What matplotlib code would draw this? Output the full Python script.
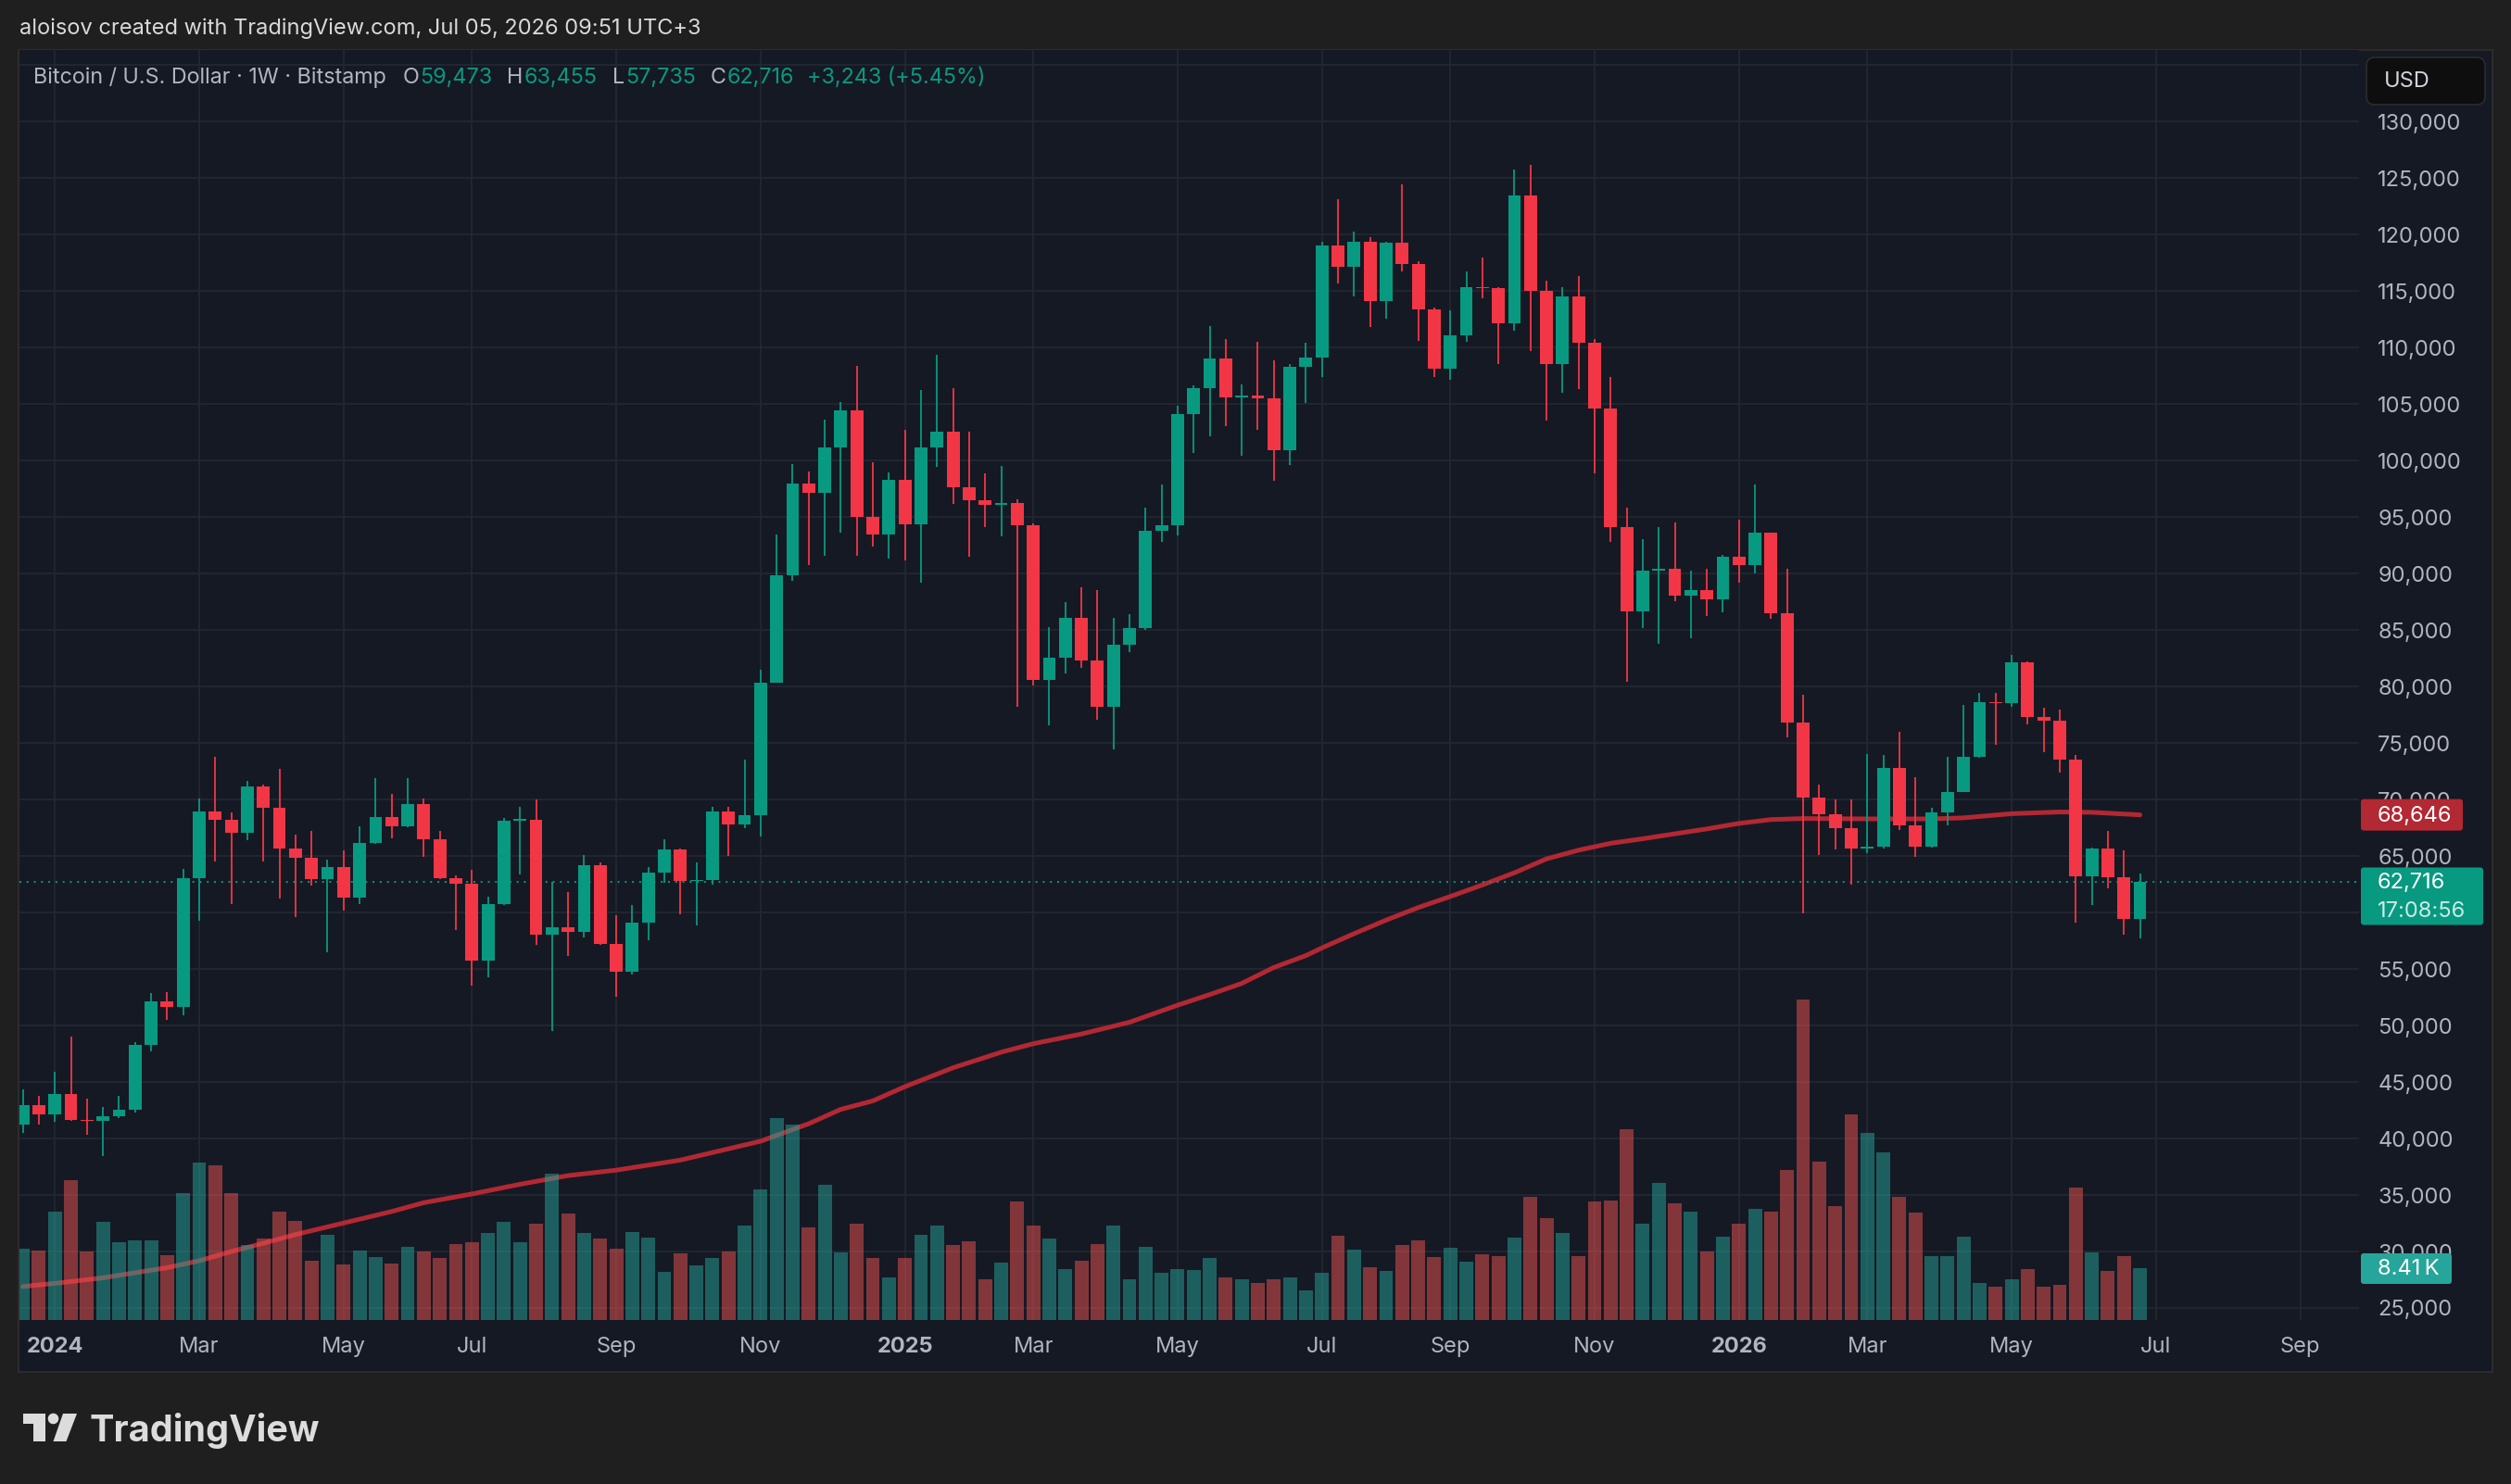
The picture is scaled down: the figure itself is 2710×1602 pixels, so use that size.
import numpy as np
import pandas as pd
import matplotlib
matplotlib.use('Agg')
import matplotlib.pyplot as plt
from matplotlib.patches import Rectangle, Polygon, Circle, FancyBboxPatch

plt.rcParams['font.family'] = ['Inter', 'DejaVu Sans']

# weekly BTC/USD candles (Bitstamp), first bar = week of 18 Dec 2023
first_week = '2023-12-18'

opens = [
    41240, 42950,
    # 2024
    42140, 43930, 41610, 41530, 41980, 42550, 48290, 52100, 51620, 63050, 68950, 68220, 67080,
    71190, 69260, 65690, 64880, 62920, 64020, 61290, 66180, 68420, 67610, 69560, 66510, 63040,
    62580, 55750, 60760, 68120, 68200, 58030, 58660, 58280, 64230, 57230, 54770, 59090, 63520,
    65590, 62760, 62880, 68930, 67780, 68640, 80380, 89820, 97990, 97180, 101150, 104430, 95050,
    93440,
    # 2025
    98330, 94390, 101200, 102590, 97640, 96490, 96090, 96260, 94300, 80610, 82570, 86080, 82280,
    78250, 83720, 85160, 93790, 94270, 104100, 106450, 109040, 105570, 105720, 105490, 100880,
    108300, 109120, 119070, 117150, 119400, 114090, 119250, 117380, 113380, 108160, 111100,
    115330, 115240, 112120, 123500, 115000, 108570, 114500, 110430, 104610, 94110, 86680, 90300,
    90410, 88040, 88580, 87740,
    # 2026
    91460, 90720, 93590, 86500, 76840, 70210, 68720, 67500, 65700, 65850, 72780, 67750, 65820,
    68900, 70680, 73750, 78650, 78500, 82120, 77340, 76940, 73500, 63240, 65670, 63160, 59473,
]
highs = [
    44340, 43770,
    45890, 49030, 43530, 42790, 43770, 48540, 52860, 52940, 63900, 70130, 73760, 68830, 71680,
    71300, 72700, 66870, 67200, 64670, 65490, 67610, 71890, 70540, 71890, 70130, 67200, 63250,
    63740, 61370, 68340, 69320, 70010, 62680, 61780, 65080, 64470, 59740, 60640, 64040, 66460,
    65700, 64440, 69330, 69390, 73530, 81470, 93440, 99710, 99020, 103630, 105180, 108400, 99890,
    98970,
    102710, 106270, 109380, 106450, 102590, 98850, 99540, 96550, 94420, 85270, 87460, 88780,
    88550, 86080, 86420, 95860, 97870, 104890, 106630, 111930, 110730, 106770, 110540, 108900,
    108530, 110470, 119400, 123170, 120240, 119800, 119350, 124490, 117610, 113580, 113320,
    116770, 117940, 115370, 125730, 126210, 115960, 115370, 116360, 110730, 107430, 95870, 93010,
    94150, 94550, 90230, 90450, 91690,
    94750, 97860, 93650, 90400, 79250, 71320, 70000, 70000, 74010, 73920, 75970, 71960, 69270,
    73780, 78370, 79420, 79420, 82790, 82260, 78110, 77960, 73920, 65730, 67220, 65490, 63455,
]
lows = [
    40510, 41240,
    41450, 41530, 40310, 38470, 41770, 42260, 47720, 50530, 50940, 59250, 64510, 60760, 66430,
    64510, 61250, 59620, 62350, 56520, 60150, 60760, 66060, 66550, 67530, 64920, 63000, 58440,
    53550, 54280, 60640, 63370, 57140, 49550, 56120, 57790, 57140, 52570, 54530, 57540, 62600,
    59840, 58860, 62430, 65020, 67430, 66740, 80300, 89360, 90740, 91600, 93650, 91600, 92400,
    91310,
    91140, 89180, 99420, 96150, 91490, 94130, 93270, 78250, 80090, 76580, 81130, 81650, 77100,
    74450, 83030, 85040, 92810, 93380, 100700, 102130, 103080, 100400, 102750, 98210, 99640,
    105090, 107430, 115700, 114500, 111860, 112590, 116770, 110620, 107360, 107180, 110540,
    114390, 108570, 111530, 109660, 103520, 106040, 106300, 98830, 92830, 80460, 85140, 83750,
    87560, 84300, 86280, 86610,
    89170, 89990, 85980, 75500, 59940, 65090, 65580, 62450, 65260, 65700, 67310, 64910, 65730,
    67720, 70640, 73720, 74830, 78220, 76640, 74190, 72370, 59120, 60670, 62160, 58030, 57735,
]
closes = [
    42950, 42140,
    43930, 41610, 41530, 41980, 42550, 48290, 52100, 51620, 63050, 68950, 68220, 67080, 71190,
    69260, 65690, 64880, 62920, 64020, 61290, 66180, 68420, 67610, 69560, 66510, 63040, 62580,
    55750, 60760, 68120, 68200, 58030, 58660, 58280, 64230, 57230, 54770, 59090, 63520, 65590,
    62760, 62880, 68930, 67780, 68640, 80380, 89820, 97990, 97180, 101150, 104430, 95050, 93440,
    98330,
    94390, 101200, 102590, 97640, 96490, 96090, 96260, 94300, 80610, 82570, 86080, 82280, 78250,
    83720, 85160, 93790, 94270, 104100, 106450, 109040, 105570, 105720, 105490, 100880, 108300,
    109120, 119070, 117150, 119400, 114090, 119250, 117380, 113380, 108160, 111100, 115330,
    115240, 112120, 123500, 115000, 108570, 114500, 110430, 104610, 94110, 86680, 90300, 90410,
    88040, 88580, 87740, 91460,
    90720, 93590, 86500, 76840, 70210, 68720, 67500, 65700, 65850, 72780, 67750, 65820, 68900,
    70680, 73750, 78650, 78500, 82120, 77340, 76940, 73500, 63240, 65670, 63160, 59473, 62716,
]
# volume in thousands of BTC
volumes = [
    11.6, 11.3,
    17.8, 22.9, 11.2, 16.0, 12.8, 13.1, 13.1, 10.6, 20.8, 25.7, 25.3, 20.7, 12.2, 13.4, 17.7,
    16.2, 9.7, 14.0, 9.1, 11.3, 10.3, 9.3, 11.9, 11.2, 10.1, 12.5, 12.7, 14.3, 16.0, 12.8, 15.7,
    24.0, 17.4, 14.3, 13.3, 11.7, 14.4, 13.5, 7.9, 10.9, 9.0, 10.2, 11.2, 15.4, 21.4, 33.0, 32.0,
    15.2, 22.1, 11.0, 15.8, 10.2, 7.0,
    10.1, 14.0, 15.4, 12.3, 12.9, 6.6, 9.4, 19.4, 15.4, 13.3, 8.3, 9.7, 12.5, 15.4, 6.6, 11.9,
    7.8, 8.4, 8.2, 10.1, 6.9, 6.6, 6.0, 6.7, 7.0, 4.9, 7.8, 13.8, 11.5, 8.6, 8.1, 12.2, 13.1,
    10.3, 11.8, 9.5, 10.7, 10.4, 13.5, 20.2, 16.7, 14.2, 10.4, 19.4, 19.6, 31.2, 15.8, 22.4, 19.1,
    17.7, 11.2, 13.6,
    15.8, 18.2, 17.7, 24.5, 52.4, 25.9, 18.7, 33.7, 30.6, 27.5, 20.2, 17.6, 10.5, 10.4, 13.6, 6.1,
    5.4, 6.6, 8.4, 5.4, 5.8, 21.6, 11.0, 8.1, 10.4, 8.41,
]

# moving average
ma_dates = [
    '2023-12-18', '2024-01-01', '2024-01-22', '2024-02-19', '2024-03-04', '2024-03-18',
    '2024-04-01', '2024-04-15', '2024-05-06', '2024-05-27', '2024-06-10', '2024-07-01',
    '2024-07-22', '2024-08-12', '2024-09-02', '2024-09-30', '2024-11-04', '2024-11-25',
    '2024-12-09', '2024-12-23', '2025-01-06', '2025-01-27', '2025-02-17', '2025-03-03',
    '2025-03-24', '2025-04-14', '2025-05-05', '2025-05-19', '2025-06-02', '2025-06-16',
    '2025-06-30', '2025-07-07', '2025-07-21', '2025-08-04', '2025-08-18', '2025-09-01',
    '2025-09-15', '2025-09-29', '2025-10-13', '2025-10-27', '2025-11-10', '2025-11-24',
    '2025-12-08', '2025-12-22', '2026-01-05', '2026-01-19', '2026-02-02', '2026-03-02',
    '2026-03-30', '2026-04-13', '2026-05-04', '2026-05-25', '2026-06-08', '2026-06-29',
]
ma_values = [
    26900, 27180, 27670, 28570, 29180, 30000, 30730, 31500, 32520, 33540, 34320, 35090,
    35950, 36720, 37200, 38090, 39760, 41310, 42580, 43330, 44590, 46260, 47640, 48390,
    49250, 50290, 51800, 52740, 53730, 55140, 56190, 56870, 58130, 59330, 60440, 61420,
    62440, 63520, 64750, 65520, 66130, 66530, 66970, 67400, 67890, 68230, 68320, 68290,
    68290, 68380, 68750, 68900, 68870, 68646,
]

tick_dates = ['2024-01-01', '2024-03-04', '2024-05-06', '2024-07-01', '2024-09-02', '2024-11-04',
              '2025-01-06', '2025-03-03', '2025-05-05', '2025-07-07', '2025-09-01', '2025-11-03',
              '2026-01-05', '2026-03-02', '2026-05-04', '2026-07-06', '2026-09-07']
tick_labels = ['2024', 'Mar', 'May', 'Jul', 'Sep', 'Nov', '2025', 'Mar', 'May', 'Jul', 'Sep',
               'Nov', '2026', 'Mar', 'May', 'Jul', 'Sep']


def week_idx(dates):
    d = pd.to_datetime(pd.Series(dates)) - pd.Timestamp(first_week)
    return (d.dt.days / 7).to_numpy()


UP, DOWN = '#089981', '#f23645'
PANE = '#151924'
GRID = '#242833'
TXT = '#b2b5be'

W, H = 2710, 1602
fig = plt.figure(figsize=(W / 100, H / 100), dpi=100, facecolor='#1f1f1f')


def fx(px):
    return px / W


def fy(py):
    return 1 - py / H


# background pane + logo
bg = fig.add_axes([0, 0, 1, 1], zorder=-5)
bg.set_xlim(0, W)
bg.set_ylim(H, 0)
bg.set_axis_off()
bg.add_patch(Rectangle((20, 54), 2670, 1427, fc=PANE, ec='#2c2c2c', lw=1.5))
logo_col = '#dcdcdc'
bg.add_patch(Polygon([(24.5, 1526), (49, 1526), (49, 1556), (36, 1556), (36, 1537), (24.5, 1537)],
                     closed=True, fc=logo_col, ec='none'))
bg.add_patch(Circle((57.5, 1531.5), 5.8, fc=logo_col, ec='none'))
bg.add_patch(Polygon([(68, 1526), (83, 1526), (71.5, 1556), (57.5, 1556)], closed=True,
                     fc=logo_col, ec='none'))
bg.text(97, 1556, 'TradingView', color=logo_col, fontsize=28.5, fontweight='bold',
        ha='left', va='baseline')

# main price pane
ax = fig.add_axes([fx(20.5), fy(1425), fx(2546) - fx(20.5), (1425 - 54) / H])
ax.set_facecolor(PANE)
ax2 = ax.twinx()   # volume overlay; twinx moves the price ticks left, fixed below

x = np.arange(len(closes))
o = np.array(opens, dtype=float)
c = np.array(closes, dtype=float)
cols = np.where(c >= o, UP, DOWN)

ma_x = week_idx(ma_dates)
ax.plot(ma_x, ma_values, color='#b22833', lw=3.6, solid_capstyle='round', zorder=2)
ax.axhline(closes[-1], color=UP, lw=1.4, ls=(0, (1, 3)), zorder=2)

ax.vlines(x, lows, highs, colors=cols, lw=1.3, zorder=3)
ax.bar(x, np.maximum(np.abs(c - o), 130), bottom=np.minimum(o, c), width=0.8,
       color=cols, linewidth=0, zorder=4)

ax.set_xlim(-0.237, 145.66)
ax.set_ylim(23934, 136338)
yt = list(range(25000, 135001, 5000))
ax.set_yticks(yt)
ax.set_yticklabels([f'{v:,}' if v < 135000 else '' for v in yt])
ax.yaxis.tick_right()
ax.set_xticks(week_idx(tick_dates))
ax.set_xticklabels(tick_labels)
for lbl in ax.get_xticklabels():
    if lbl.get_text().isdigit():
        lbl.set_fontweight('bold')
ax.tick_params(axis='both', length=0, colors=TXT, labelsize=17)
ax.tick_params(axis='y', pad=14.5, left=False, labelleft=False, right=False, labelright=True)
ax.tick_params(axis='x', pad=13)
ax.grid(True, color=GRID, lw=1.2)
ax.set_axisbelow(True)
for s in ax.spines.values():
    s.set_visible(False)

vpx_per_k = 6.6
ax2.set_ylim(0, (1425 - 54) / vpx_per_k)
vcols = np.where(c >= o, '#26a69a', '#ef5350')
ax2.bar(x, volumes, width=0.86, color=vcols, alpha=0.5, linewidth=0)
ax2.set_axis_off()

# price scale tags
ov = fig.add_axes([0, 0, 1, 1], zorder=10)
ov.set_xlim(0, W)
ov.set_ylim(H, 0)
ov.set_axis_off()


def to_px(a, v):
    return H - a.transData.transform((0, v))[1]


y_ma = to_px(ax, ma_values[-1])
ov.add_patch(FancyBboxPatch((2548, y_ma - 17), 110, 34, boxstyle='round,pad=0,rounding_size=3',
                            fc='#b22833', ec='none'))
ov.text(2566, y_ma + 1, f'{ma_values[-1]:,}', color='white', fontsize=17, va='center')

y_last = to_px(ax, closes[-1])
ov.add_patch(FancyBboxPatch((2548, y_last - 15.5), 132, 62, boxstyle='round,pad=0,rounding_size=3',
                            fc=UP, ec='none'))
ov.text(2566, y_last + 1, f'{closes[-1]:,}', color='white', fontsize=17, va='center')
ov.text(2566, y_last + 32, '17:08:56', color='#cdebe5', fontsize=17, va='center')

y_vol = to_px(ax2, volumes[-1])
ov.add_patch(FancyBboxPatch((2548, y_vol - 16.5), 98, 33, boxstyle='round,pad=0,rounding_size=3',
                            fc='#26a69a', ec='none'))
ov.text(2566, y_vol + 1, f'{volumes[-1]:.2f}\u2009K', color='white', fontsize=17, va='center')

ov.add_patch(FancyBboxPatch((2554, 62), 128, 51, boxstyle='round,pad=0,rounding_size=9',
                            fc='#0e0e0e', ec='#2c2c2c', lw=1.2))
ov.text(2573, 88.5, 'USD', color='#d1d4dc', fontsize=17, va='center')

# header texts
fig.text(fx(21), fy(31), 'aloisov created with TradingView.com, Jul 05, 2026 09:51 UTC+3',
         color='#d9d9d9', fontsize=17, va='center', ha='left')

chg = closes[-1] - opens[-1]
pct = chg / opens[-1] * 100
pieces = [
    ('Bitcoin / U.S. Dollar · 1W · Bitstamp', TXT, 17),
    ('O', TXT, 1), (f'{opens[-1]:,}', UP, 16),
    ('H', TXT, 1), (f'{highs[-1]:,}', UP, 16),
    ('L', TXT, 1), (f'{lows[-1]:,}', UP, 16),
    ('C', TXT, 1), (f'{closes[-1]:,}', UP, 14),
    (f'+{chg:,} (+{pct:.2f}%)', UP, 0),
]
rend = fig.canvas.get_renderer()
xpos = 36.5
for s, col, gap in pieces:
    t = fig.text(fx(xpos), fy(84), s, color=col, fontsize=16.8, va='center', ha='left')
    xpos = t.get_window_extent(rend).x1 + gap

fig.savefig('out.png', dpi=100, facecolor=fig.get_facecolor())
